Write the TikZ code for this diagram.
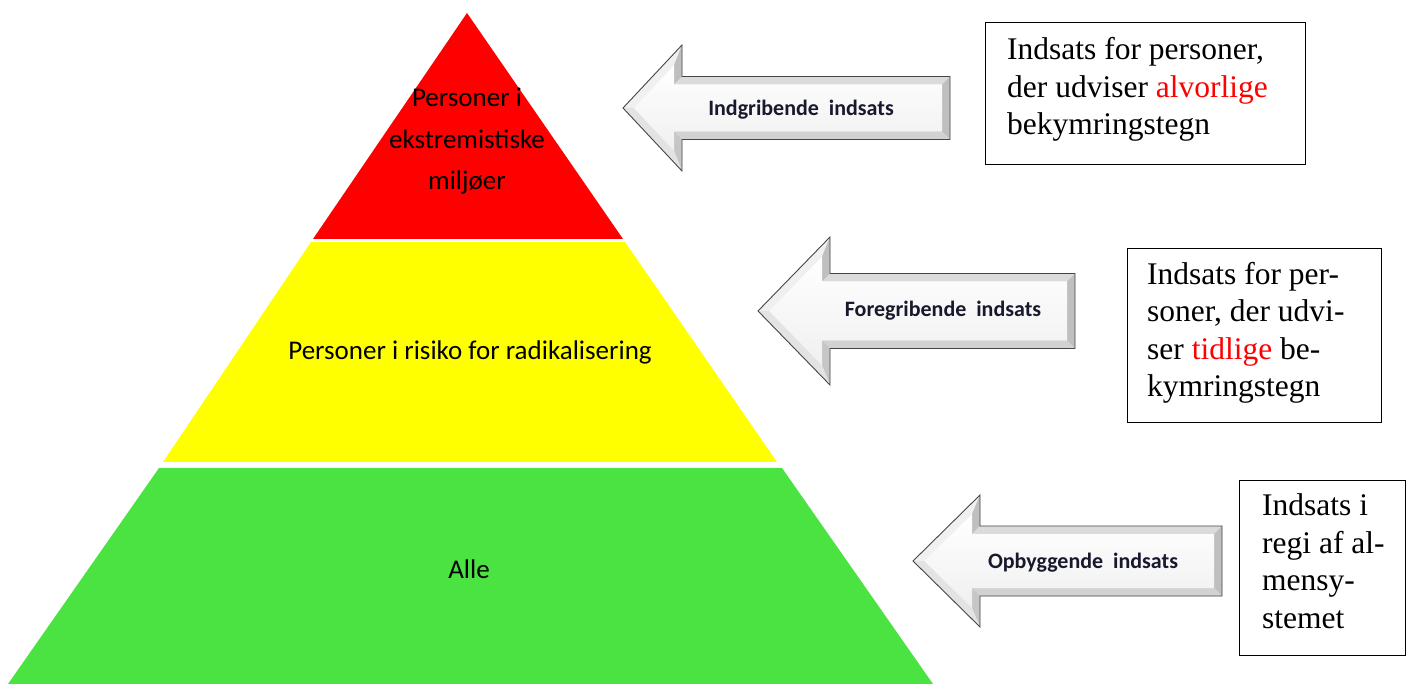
\documentclass[tikz,border=0pt]{standalone}
\usepackage{fontspec}
\setmainfont{Liberation Serif}
\newfontfamily\calib{Carlito}
\usetikzlibrary{calc}
\definecolor{pgreen}{RGB}{74,227,66}
\definecolor{pred}{RGB}{255,0,0}
\definecolor{pyellow}{RGB}{255,255,0}
\definecolor{labelink}{RGB}{25,25,45}

\newcommand\bevelarrow[7]{%
  \pgfmathsetmacro\ba{#4-#2}%
  \pgfmathsetmacro\bL{sqrt(\ba*\ba+#5*#5)}%
  \pgfmathsetmacro\bd{8}%
  \pgfmathsetmacro\itx{#2+\bd*\bL/#5}%
  \pgfmathsetmacro\ihx{#4-\bd}%
  \pgfmathsetmacro\ihh{#5-\bd*(#5+\bL)/\ba}%
  \pgfmathsetmacro\ish{#6-\bd}%
  \pgfmathsetmacro\iex{#7-\bd}%
  \coordinate (#1P1) at (#2,#3);
  \coordinate (#1P2) at (#4,#3-#5);
  \coordinate (#1P3) at (#4,#3-#6);
  \coordinate (#1P4) at (#7,#3-#6);
  \coordinate (#1P5) at (#7,#3+#6);
  \coordinate (#1P6) at (#4,#3+#6);
  \coordinate (#1P7) at (#4,#3+#5);
  \coordinate (#1I1) at (\itx,#3);
  \coordinate (#1I2) at (\ihx,#3-\ihh);
  \coordinate (#1I3) at (\ihx,#3-\ish);
  \coordinate (#1I4) at (\iex,#3-\ish);
  \coordinate (#1I5) at (\iex,#3+\ish);
  \coordinate (#1I6) at (\ihx,#3+\ish);
  \coordinate (#1I7) at (\ihx,#3+\ihh);
  % shadow
  \fill[gray!40, opacity=0.45, shift={(3,4)}] (#1P1)--(#1P2)--(#1P3)--(#1P4)--(#1P5)--(#1P6)--(#1P7)--cycle;
  % bevel facets
  \fill[gray!12] (#1P1)--(#1P2)--(#1I2)--(#1I1)--cycle;
  \fill[gray!50] (#1P2)--(#1P3)--(#1I3)--(#1I2)--cycle;
  \fill[gray!28] (#1P3)--(#1P4)--(#1I4)--(#1I3)--cycle;
  \fill[gray!50] (#1P4)--(#1P5)--(#1I5)--(#1I4)--cycle;
  \fill[gray!35] (#1P5)--(#1P6)--(#1I6)--(#1I5)--cycle;
  \fill[gray!45] (#1P6)--(#1P7)--(#1I7)--(#1I6)--cycle;
  \fill[gray!22] (#1P7)--(#1P1)--(#1I1)--(#1I7)--cycle;
  % face
  \shade[top color=white, bottom color=gray!12] (#1I1)--(#1I2)--(#1I3)--(#1I4)--(#1I5)--(#1I6)--(#1I7)--cycle;
  % outline
  \draw[arrowline] (#1P1)--(#1P2)--(#1P3)--(#1P4)--(#1P5)--(#1P6)--(#1P7)--cycle;
}

\begin{document}
\begin{tikzpicture}[x=1pt,y=-1pt,
  arrowline/.style={draw=gray!55!black, line width=0.9pt, line join=miter},
  layertext/.style={font=\calib\fontsize{27}{41.5}\selectfont, align=center, text=black, inner sep=0pt},
  arrowlabel/.style={font=\calib\bfseries\fontsize{22}{26}\selectfont, text=labelink, inner sep=0pt},
  boxframe/.style={draw=black, line width=1.3pt, anchor=north west, inner sep=0pt},
  boxtext/.style={font=\fontsize{31.5}{37.5}\selectfont, align=left, anchor=base west, inner sep=0pt}
]
\useasboundingbox (0,0) rectangle (1409,684);
\fill[white] (0,0) rectangle (1409,684);

% pyramid layers
\fill[pred] (467,13) -- (623,239) -- (313,239) -- cycle;
\fill[pyellow] (311,242) -- (625,242) -- (777,462) -- (163,462) -- cycle;
\fill[pgreen] (159,468) -- (782,468) -- (933,684) -- (8,684) -- cycle;

% multi-line nodes: base anchor = baseline of the last line
\node[layertext, anchor=base] (top) at (467,190) {Personer i\\ekstremistiske\\miljøer};
\node[layertext, anchor=base] (mid) at (470,360) {Personer i risiko for radikalisering};
\node[layertext, anchor=base] (low) at (469,578) {Alle};

% arrows
\bevelarrow{a}{623}{108}{682}{63}{31.5}{950}
\node[arrowlabel] (la) at (801,110) {Indgribende\hspace{0.45em}indsats};
\bevelarrow{b}{758}{311}{830}{74}{37.5}{1075}
\node[arrowlabel] (lb) at (943,311) {Foregribende\hspace{0.45em}indsats};
\bevelarrow{c}{913}{561}{980}{66}{35}{1222}
\node[arrowlabel] (lc) at (1083,563) {Opbyggende\hspace{0.45em}indsats};

% boxes
\node[boxframe, minimum width=320pt, minimum height=142pt] (b1) at (985,22) {};
\node[boxtext] (t1) at (1007,135) {Indsats for personer,\\der udviser \textcolor{pred}{alvorlige}\\bekymringstegn};
\node[boxframe, minimum width=254pt, minimum height=174pt] (b2) at (1127,248) {};
\node[boxtext] (t2) at (1147,397) {Indsats for per-\\soner, der udvi-\\ser \textcolor{pred}{tidlige} be-\\kymringstegn};
\node[boxframe, minimum width=166pt, minimum height=175pt] (b3) at (1239,480) {};
\node[boxtext] (t3) at (1262,628) {Indsats i\\regi af al-\\mensy-\\stemet};
\end{tikzpicture}
\end{document}
